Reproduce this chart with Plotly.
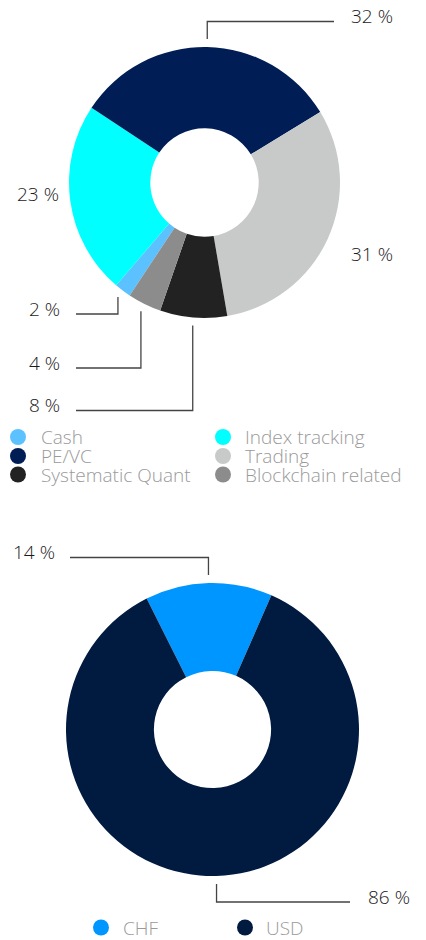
import math
import plotly.graph_objects as go

# the page puts the plot 8px in from the top-left corner, so the figure is
# made smaller and the hidden axes are set up in page pixels
OFF = 8
W, H = 426 - OFF, 940 - OFF

# allocation by strategy (legend order, clockwise round the donut)
strategy_labels = ["Cash", "Index tracking", "PE/VC", "Trading", "Systematic Quant", "Blockchain related"]
strategy_values = [2, 23, 32, 31, 8, 4]
strategy_colors = ["#5BC2FF", "#00FFFF", "#001E55", "#C8C9C9", "#222222", "#8C8C8C"]

# allocation by currency
currency_labels = ["CHF", "USD"]
currency_values = [14, 86]
currency_colors = ["#0096FF", "#001A40"]

FONT = "Open Sans"
TXT = "#1A1A1A"
GREY = "#9A9A9A"

# donut geometry in page pixels: centre x, centre y, radius, start angle
top_pie = dict(cx=204.5, cy=182.5, r=135.5, rot=-146.5)
bot_pie = dict(cx=212.5, cy=729.5, r=146.5, rot=-26.7)

# where each percentage goes (None line_y -> plain label, no leader)
top_lbl = [
    dict(line_y=314, end_x=76, tx=62, ty=308.5, anchor="right"),
    dict(line_y=None, tx=61, ty=194, anchor="right"),
    dict(line_y=21.5, end_x=334, tx=349, ty=15.5, anchor="left"),
    dict(line_y=None, tx=349, ty=254, anchor="left"),
    dict(line_y=410.5, end_x=76, tx=62, ty=405, anchor="right"),
    dict(line_y=368, end_x=76, tx=62, ty=362.5, anchor="right"),
]
bot_lbl = [
    dict(line_y=557.5, end_x=70, tx=57, ty=551.5, anchor="right"),
    dict(line_y=902, end_x=350, tx=366, ty=896.5, anchor="left"),
]


def domain(p):
    return dict(x=[(p["cx"] - p["r"] - OFF) / W, (p["cx"] + p["r"] - OFF) / W],
                y=[1 - (p["cy"] + p["r"] - OFF) / H, 1 - (p["cy"] - p["r"] - OFF) / H])


fig = go.Figure()

for p, labels, values, colors in [(top_pie, strategy_labels, strategy_values, strategy_colors),
                                  (bot_pie, currency_labels, currency_values, currency_colors)]:
    fig.add_trace(go.Pie(labels=labels, values=values, hole=0.40, sort=False,
                         direction="clockwise", rotation=p["rot"],
                         marker=dict(colors=colors, line=dict(width=0)),
                         textinfo="none", domain=domain(p), showlegend=False,
                         hovertemplate="%{label}: %{value} %<extra></extra>"))

annotations = []


def add_labels(p, values, specs):
    total = sum(values)
    ang = p["rot"]
    for v, s in zip(values, specs):
        mid = math.radians(ang + 360 * v / total / 2)
        ang += 360 * v / total
        if s["line_y"] is not None:
            rr = p["r"] + 8
            sx = p["cx"] + rr * math.sin(mid)
            sy = p["cy"] - rr * math.cos(mid)
            fig.add_trace(go.Scatter(x=[sx, sx, s["end_x"]], y=[sy, s["line_y"], s["line_y"]],
                                     mode="lines", line=dict(color="#444444", width=1.3),
                                     hoverinfo="skip", showlegend=False))
        annotations.append(dict(x=s["tx"], y=s["ty"], xref="x", yref="y", text=f"{v} %",
                                showarrow=False, xanchor=s["anchor"], yanchor="middle",
                                font=dict(family=FONT, size=19, color=TXT, weight=300)))


add_labels(top_pie, strategy_values, top_lbl)
add_labels(bot_pie, currency_values, bot_lbl)

# hand-made legends with round markers
legends = [
    (strategy_labels, strategy_colors, [18, 223], [39, 243], [437, 456, 474.5], 2),
    (currency_labels, currency_colors, [101, 245], [121, 264], [927.5], 2),
]
for labels, colors, mx, tx, rows, ncol in legends:
    for i, (lab, col) in enumerate(zip(labels, colors)):
        r, c = divmod(i, ncol)
        fig.add_trace(go.Scatter(x=[mx[c]], y=[rows[r]], mode="markers",
                                 marker=dict(size=16, color=col, line=dict(width=0)),
                                 hoverinfo="skip", showlegend=False))
        annotations.append(dict(x=tx[c], y=rows[r], xref="x", yref="y", text=lab,
                                showarrow=False, xanchor="left", yanchor="middle",
                                font=dict(family=FONT, size=19, color=GREY, weight=300)))

fig.update_layout(
    width=W, height=H, margin=dict(l=0, r=0, t=0, b=0),
    paper_bgcolor="white", plot_bgcolor="white",
    xaxis=dict(range=[OFF, OFF + W], visible=False, fixedrange=True),
    yaxis=dict(range=[OFF + H, OFF], visible=False, fixedrange=True),
    annotations=annotations, showlegend=False,
)

fig.write_html("out.html")
